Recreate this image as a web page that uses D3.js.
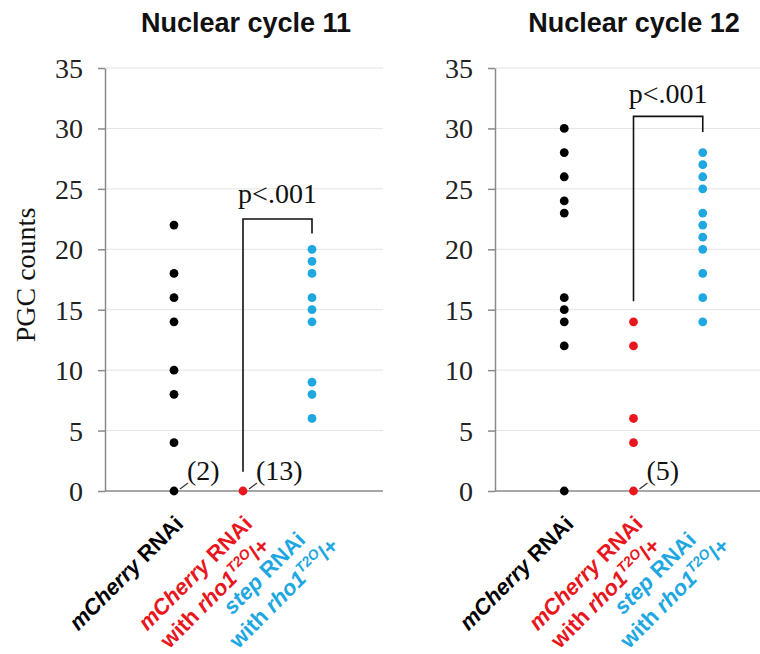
<!DOCTYPE html>
<html>
<head>
<meta charset="utf-8">
<script src="https://cdn.jsdelivr.net/npm/d3@7"></script>
<style>
  html, body { margin: 0; padding: 0; background: #fff; }
  svg { display: block; }
</style>
</head>
<body>
<svg id="chart" width="760" height="654"></svg>
<script>
// ---------------- DATA ----------------
const panelTitles = ["Nuclear cycle 11", "Nuclear cycle 12"];
const categories = ["mCherry RNAi", "mCherry RNAi with rho1T2O/+", "step RNAi with rho1T2O/+"];
const yTicks = [0, 5, 10, 15, 20, 25, 30, 35];

// Nuclear cycle 11
const nc11_mCherry = [22, 18, 16, 14, 10, 8, 4, 0];
const nc11_mCherryRho = [0];
const nc11_stepRho = [20, 19, 18, 16, 15, 14, 9, 8, 6];
// Nuclear cycle 12
const nc12_mCherry = [30, 28, 26, 24, 23, 16, 15, 14, 12, 0];
const nc12_mCherryRho = [14, 12, 6, 4, 0];
const nc12_stepRho = [28, 27, 26, 25, 23, 22, 21, 20, 18, 16, 14];

// counts of overlapping embryos at zero: [panel, category index, value, label]
const countNotes = [[0, 0, 0, "(2)"], [0, 1, 0, "(13)"], [1, 1, 0, "(5)"]];

// significance brackets (values in PGC count units): per panel
const bracketTop = [22.5, 31.0];
const bracketLeftEnd = [1.6, 15.7];
const bracketRightEnd = [21.3, 29.7];
const pLabelValue = [23.8, 32.1];
const pLabels = ["p<.001", "p<.001"];

// ---------------- STYLE ----------------
const colors = ["#000000", "#e8161d", "#1ea7e1"];
const serif = "'Liberation Serif', 'Times New Roman', serif";
const sans = "'Liberation Sans', Arial, sans-serif";

const panelData = [
  [nc11_mCherry, nc11_mCherryRho, nc11_stepRho],
  [nc12_mCherry, nc12_mCherryRho, nc12_stepRho]
];

// category label lines (rich text pieces)
const rhoLine = [{t: "with "}, {t: "rho1", i: true}, {t: "T2O", i: true, sup: true}, {t: "/+"}];
const catLabelLines = [
  [[{t: "mCherry", i: true}, {t: " RNAi"}]],
  [[{t: "mCherry", i: true}, {t: " RNAi"}], rhoLine],
  [[{t: "step", i: true}, {t: " RNAi"}], rhoLine]
];

const svg = d3.select("#chart");
const yTop = 68, yBottom = 491;
const y = d3.scaleLinear().domain([0, 35]).range([yBottom, yTop]);

const panelRanges = [[105, 381], [495, 772]];

panelRanges.forEach((rng, pi) => {
  const x = d3.scalePoint().domain(categories).range(rng).padding(1);
  const g = svg.append("g");
  const right = Math.min(rng[1] + 2, 760);

  // gridlines
  g.append("g").selectAll("line")
    .data(yTicks.filter(v => v > 0))
    .join("line")
    .attr("x1", rng[0]).attr("x2", right)
    .attr("y1", d => y(d)).attr("y2", d => y(d))
    .attr("stroke", "#e4e4e4").attr("stroke-width", 1);

  // y axis
  const ax = g.append("g")
    .attr("transform", `translate(${rng[0]},0)`)
    .call(d3.axisLeft(y).tickValues(yTicks).tickSize(7).tickPadding(15).tickSizeOuter(0));
  ax.select(".domain").attr("stroke", "#8a8a8a").attr("stroke-width", 1.5);
  ax.selectAll(".tick line").attr("stroke", "#8a8a8a").attr("stroke-width", 1.5);
  ax.selectAll(".tick text")
    .attr("font-family", serif).attr("font-size", 28).attr("fill", "#222")
    .attr("dy", "0.34em");

  // x axis baseline
  g.append("line")
    .attr("x1", rng[0]).attr("x2", right)
    .attr("y1", y(0)).attr("y2", y(0))
    .attr("stroke", "#8a8a8a").attr("stroke-width", 1.5);

  // title
  g.append("text")
    .attr("x", pi === 0 ? 246 : 634).attr("y", 32)
    .attr("text-anchor", "middle")
    .attr("font-family", sans).attr("font-weight", "bold").attr("font-size", 27)
    .attr("fill", "#111")
    .text(panelTitles[pi]);

  // bracket
  const bx1 = x(categories[1]), bx2 = x(categories[2]);
  g.append("path")
    .attr("d", `M${bx1},${y(bracketLeftEnd[pi])}V${y(bracketTop[pi])}H${bx2}V${y(bracketRightEnd[pi])}`)
    .attr("fill", "none").attr("stroke", "#111").attr("stroke-width", 1.6);
  g.append("text")
    .attr("x", (bx1 + bx2) / 2).attr("y", y(pLabelValue[pi]))
    .attr("text-anchor", "middle")
    .attr("font-family", serif).attr("font-size", 28).attr("fill", "#111")
    .text(pLabels[pi]);

  // dots
  panelData[pi].forEach((vals, ci) => {
    g.append("g").selectAll("circle")
      .data(vals)
      .join("circle")
      .attr("cx", x(categories[ci]))
      .attr("cy", d => y(d))
      .attr("r", 4.4)
      .attr("fill", colors[ci]);
  });

  // count notes
  countNotes.filter(n => n[0] === pi).forEach(n => {
    const cx = x(categories[n[1]]), cy = y(n[2]);
    g.append("line")
      .attr("x1", cx + 6).attr("y1", cy - 2)
      .attr("x2", cx + 14).attr("y2", cy - 8)
      .attr("stroke", "#333").attr("stroke-width", 1.2);
    g.append("text")
      .attr("x", cx + 13).attr("y", cy - 11)
      .attr("font-family", serif).attr("font-size", 28).attr("fill", "#111")
      .text(n[3]);
  });

  // category labels (rotated)
  categories.forEach((c, ci) => {
    const lg = g.append("g")
      .attr("transform", `translate(${x(c) - 48},${y(0) + 82}) rotate(-45)`);
    catLabelLines[ci].forEach((line, li) => {
      const t = lg.append("text")
        .attr("x", 0).attr("y", li * 28)
        .attr("dy", "0.35em")
        .attr("text-anchor", "middle")
        .attr("font-family", sans).attr("font-weight", "bold").attr("font-size", 22)
        .attr("fill", colors[ci]);
      let raised = false;
      line.forEach(p => {
        const ts = t.append("tspan").text(p.t);
        if (p.i) ts.attr("font-style", "italic");
        if (p.sup) {
          ts.attr("font-size", 14).attr("dy", -9);
          raised = true;
        } else if (raised) {
          ts.attr("dy", 9);
          raised = false;
        }
      });
    });
  });
});

// y-axis label
svg.append("text")
  .attr("transform", "translate(25,275) rotate(-90)")
  .attr("dy", "0.35em")
  .attr("text-anchor", "middle")
  .attr("font-family", serif).attr("font-size", 28).attr("fill", "#111")
  .text("PGC counts");
</script>
</body>
</html>
